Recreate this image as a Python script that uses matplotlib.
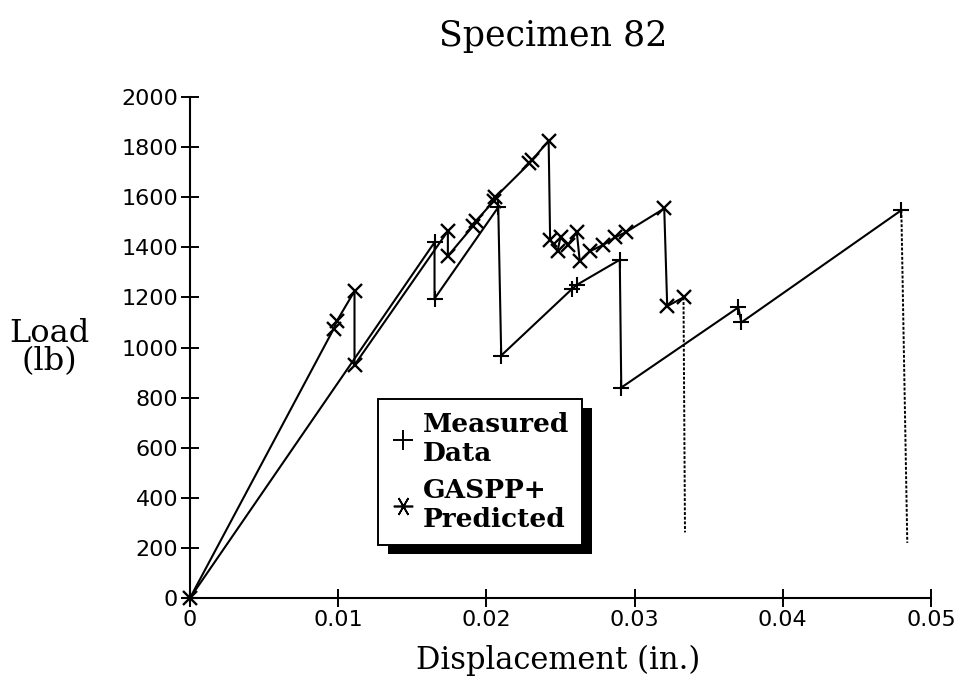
#!/usr/bin/env python3

import matplotlib
matplotlib.use("Agg")
import matplotlib.pyplot as plt
from matplotlib.lines import Line2D
from matplotlib.patches import Rectangle
from matplotlib.transforms import IdentityTransform

# measured load-displacement (+)
meas_x = [0, 0.0165, 0.0165, 0.0208, 0.0210, 0.0258, 0.0261, 0.0290, 0.0291,
          0.0370, 0.0372, 0.0480]
meas_y = [0, 1420, 1195, 1560, 968, 1235, 1250, 1350, 840,
          1160, 1100, 1548]
meas_fail_x = [0.0480, 0.0484]
meas_fail_y = [1548, 220]

# GASPP+ prediction (x)
gas_x = [0, 0.0097, 0.0099, 0.0111, 0.0111, 0.0174, 0.0174, 0.0191, 0.0193,
         0.0205, 0.0206, 0.0229, 0.0231, 0.0242, 0.0243, 0.0248, 0.0250,
         0.0255, 0.0261, 0.0263, 0.0270, 0.0279, 0.0287, 0.0294, 0.0320,
         0.0322, 0.0333]
gas_y = [0, 1075, 1105, 1225, 930, 1465, 1365, 1485, 1505,
         1585, 1600, 1735, 1750, 1825, 1430, 1385, 1440,
         1410, 1460, 1345, 1385, 1410, 1440, 1460, 1555,
         1165, 1200]
gas_fail_x = [0.0333, 0.0334]
gas_fail_y = [1200, 262]

x_ticks = [0, 0.01, 0.02, 0.03, 0.04, 0.05]
x_labels = ["0", "0.01", "0.02", "0.03", "0.04", "0.05"]
y_ticks = list(range(0, 2001, 200))

serif = "DejaVu Serif"

fig = plt.figure(figsize=(9.63, 6.79), dpi=100)
ax = fig.add_axes([190 / 963, 1 - 598 / 679, 741 / 963, 501 / 679])

ax.plot(meas_x, meas_y, color="black", lw=1.5, marker="+", ms=11, mew=1.5,
        clip_on=False, zorder=3)
ax.plot(gas_x, gas_y, color="black", lw=1.5, marker="x", ms=10, mew=1.7,
        clip_on=False, zorder=3)
ax.plot(meas_fail_x, meas_fail_y, color="black", lw=1.4, ls=(0, (1.5, 0.9)))
ax.plot(gas_fail_x, gas_fail_y, color="black", lw=1.4, ls=(0, (1.5, 0.9)))

ax.set_xlim(0, 0.05)
ax.set_ylim(0, 2000)
ax.set_xticks(x_ticks)
ax.set_xticklabels(x_labels)
ax.set_yticks(y_ticks)
for s in ["top", "right"]:
    ax.spines[s].set_visible(False)
for s in ["left", "bottom"]:
    ax.spines[s].set_linewidth(1.5)
ax.tick_params(direction="inout", length=13, width=1.4, labelsize=16, pad=2)

fig.text(553 / 963, 1 - 36 / 679, "Specimen 82", family=serif, fontsize=25,
         ha="center", va="center")
ax.set_xlabel("Displacement (in.)", family=serif, fontsize=22, va="center")
ax.xaxis.set_label_coords(0.497, -0.125)
ax.set_ylabel("Load\n(lb)", family=serif, fontsize=23, rotation=0,
              ha="center", va="center", linespacing=0.85)
ax.yaxis.set_label_coords(-0.19, 0.5)

handles = [
    Line2D([], [], color="black", marker="+", ls="none", ms=15, mew=1.4),
    Line2D([], [], color="black", marker=(6, 2, 90), ls="none", ms=14, mew=1.2),
]
leg = ax.legend(handles, ["Measured\nData", "GASPP+\nPredicted"],
                loc="upper left", bbox_to_anchor=(188 / 741, 1 - 302 / 501),
                frameon=True, fancybox=False, edgecolor="black",
                facecolor="white", framealpha=1,
                prop={"family": serif, "weight": "bold", "size": 19},
                handlelength=0.9, handletextpad=0.3, labelspacing=0.45,
                borderpad=0.5, borderaxespad=0)
leg.get_frame().set_linewidth(1.4)
leg.set_zorder(6)

fig.canvas.draw()
bb = leg.get_window_extent()
ax.add_patch(Rectangle((bb.x0 + 10, bb.y0 - 9), bb.width, bb.height,
                       transform=IdentityTransform(), facecolor="black",
                       edgecolor="none", clip_on=False, zorder=5.5))

fig.savefig("out.png", dpi=100)
